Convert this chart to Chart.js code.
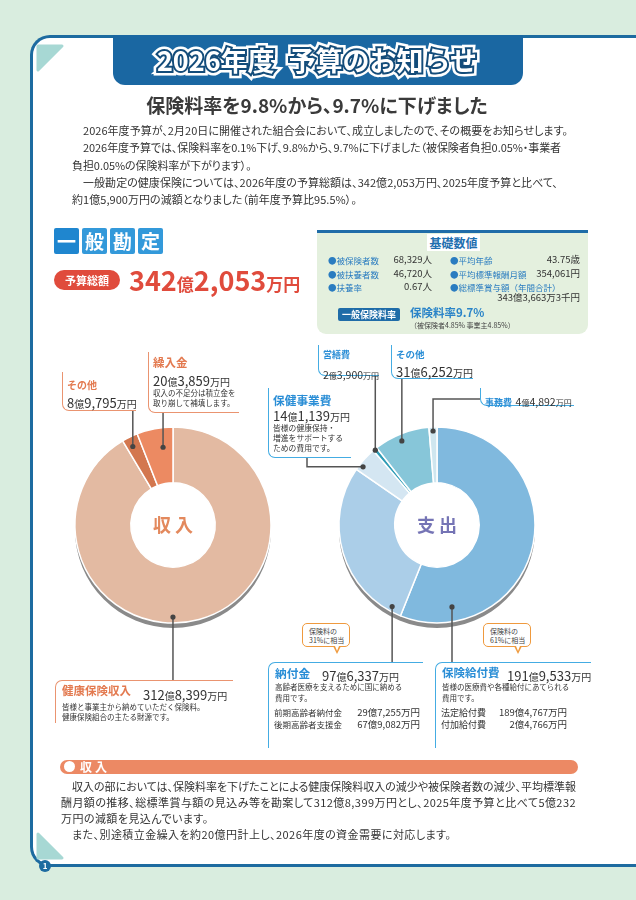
<!DOCTYPE html>
<html lang="ja">
<head>
<meta charset="utf-8">
<script src="https://cdn.jsdelivr.net/npm/chart.js@4.4.1/dist/chart.umd.min.js"></script>
<style>
html, body { margin: 0; padding: 0; }
body { width: 636px; height: 900px; overflow: hidden; background: #d9eddf; position: relative;
  font-family: "Noto Sans CJK JP", "Noto Sans", sans-serif; color: #333; }
.a { position: absolute; white-space: nowrap; line-height: 1; z-index: 3; }
.pp { font-feature-settings: "palt"; }
#card { position: absolute; left: 30px; top: 35px; width: 640px; height: 832px; box-sizing: border-box;
  border: 3px solid #1d6ba0; border-right: none; border-radius: 20px 0 0 20px; background: #fff; z-index: 1; }
canvas { position: absolute; left: 0; top: 0; z-index: 2; }
#tab { position: absolute; left: 113px; top: 35px; width: 410px; height: 50px; background: #1a67a2;
  border-radius: 0 0 12px 12px; z-index: 3; }
.ttl { left: 0; width: 634px; text-align: center; top: 46px; font-size: 27px; font-weight: 700; }
.ttl span { margin-left: 14px; }
.ttl.s1 { -webkit-text-stroke: 9px #fff; color: #fff; }
.ttl.s2 { -webkit-text-stroke: 4px #134c7a; color: #134c7a; }
.ttl.s3 { color: #fff; }
.p { font-size: 11px; color: #333; font-feature-settings: "palt"; }
.tile { position: absolute; top: 228px; width: 25px; height: 26px; background: #3399da; color: #fff; z-index: 3;
  font-size: 19px; font-weight: 700; text-align: center; line-height: 26px; border-radius: 2px; }
.bl { color: #2a7cc0; font-size: 8.5px; }
.bv { font-size: 9.5px; text-align: right; }
.ob { position: absolute; z-index: 3; border-left: 1.5px solid #ea9470; border-bottom: 1.5px solid #ea9470; border-bottom-left-radius: 7px; }
.ot { position: absolute; z-index: 3; border-left: 1.5px solid #ea9470; border-top: 1.5px solid #ea9470; border-top-left-radius: 7px; }
.bb { position: absolute; z-index: 3; border-left: 1.5px solid #44ace3; border-bottom: 1.5px solid #44ace3; border-bottom-left-radius: 7px; }
.bt { position: absolute; z-index: 3; border-left: 1.5px solid #44ace3; border-top: 1.5px solid #44ace3; border-top-left-radius: 7px; }
.oh { color: #e37a50; font-weight: 700; }
.bh { color: #2a8ed6; font-weight: 700; }
.sm { font-size: 7.5px; color: #333; }
.bub { position: absolute; z-index: 3; width: 48px; height: 24px; border: 1.5px solid #ef9a3e; border-radius: 5px; background: #fff;
  font-size: 7px; line-height: 9px; color: #444; padding: 3px 0 0 6px; box-sizing: border-box; }
.bub::after { content: ""; position: absolute; left: 30px; bottom: -8px; width: 0; height: 0;
  border-left: 4px solid transparent; border-right: 4px solid transparent; border-top: 8px solid #ef9a3e; }
.bub::before { content: ""; position: absolute; left: 31.5px; bottom: -5px; width: 0; height: 0; z-index: 1;
  border-left: 2.5px solid transparent; border-right: 2.5px solid transparent; border-top: 5px solid #fff; }
</style>
</head>
<body>
<div id="card"></div>
<svg width="636" height="900" style="position:absolute;left:0;top:0;z-index:1">
  <path d="M38 46 L62 46 L38 70 Z" fill="#a7d8d4" stroke="#a7d8d4" stroke-width="3" stroke-linejoin="round"/>
  <path d="M38 834 L62 858 L38 858 Z" fill="#a7d8d4" stroke="#a7d8d4" stroke-width="3" stroke-linejoin="round"/>
</svg>
<div class="a" style="left:39px;top:860px;width:12px;height:12px;border-radius:6px;background:#1d6ba0;color:#fff;font-size:8px;font-weight:700;text-align:center;line-height:12px">1</div>

<div id="tab"></div>
<div class="a ttl s1">2026年度<span>予算のお知らせ</span></div>
<div class="a ttl s2">2026年度<span>予算のお知らせ</span></div>
<div class="a ttl s3">2026年度<span>予算のお知らせ</span></div>

<div class="a pp" style="left:0;width:634px;text-align:center;top:95px;font-size:19px;font-weight:700;color:#3a3a3a">保険料率を9.8%から、9.7%に下げました</div>

<div class="a p" style="left:83px;top:125px" data-w="485">2026年度予算が、2月20日に開催された組合会において、成立しましたので、その概要をお知らせします。</div>
<div class="a p" style="left:83px;top:142px" data-w="478">2026年度予算では、保険料率を0.1%下げ、9.8%から、9.7%に下げました（被保険者負担0.05%・事業者</div>
<div class="a p" style="left:72px;top:160px">負担0.05%の保険料率が下がります）。</div>
<div class="a p" style="left:83px;top:177px" data-w="475">一般勘定の健康保険については、2026年度の予算総額は、342億2,053万円、2025年度予算と比べて、</div>
<div class="a p" style="left:72px;top:194px">約1億5,900万円の減額となりました（前年度予算比95.5%）。</div>

<div class="tile" style="left:54px;background:#1f86cf">一</div>
<div class="tile" style="left:82px">般</div>
<div class="tile" style="left:110px">勘</div>
<div class="tile" style="left:138px">定</div>

<div class="a" style="left:54px;top:270px;width:66px;height:20px;border-radius:10px;background:#e04b3c;color:#fff;font-size:11px;font-weight:700;text-align:center;line-height:20px">予算総額</div>
<div class="a" id="total" style="left:129px;top:266px;color:#e04b3c;font-weight:700;line-height:28px"></div>

<!-- 基礎数値 -->
<div class="a" style="left:317px;top:230px;width:271px;height:104px;background:#e4f0de;border-top:3px solid #1f6ca8;border-radius:0 0 9px 9px;box-sizing:border-box;z-index:2"></div>
<div class="a" style="left:427px;top:234px;width:53px;height:17px;background:#fff;color:#1f6fb0;font-size:12px;font-weight:700;text-align:center;line-height:17px">基礎数値</div>
<div class="a bl" style="left:328px;top:256px">●被保険者数</div>
<div class="a bv" style="left:372px;width:60px;top:255px">68,329人</div>
<div class="a bl" style="left:328px;top:270px">●被扶養者数</div>
<div class="a bv" style="left:372px;width:60px;top:269px">46,720人</div>
<div class="a bl" style="left:328px;top:283px">●扶養率</div>
<div class="a bv" style="left:372px;width:60px;top:282px">0.67人</div>
<div class="a bl" style="left:450px;top:256px">●平均年齢</div>
<div class="a bv" style="left:520px;width:60px;top:255px">43.75歳</div>
<div class="a bl" style="left:450px;top:270px">●平均標準報酬月額</div>
<div class="a bv" style="left:520px;width:60px;top:269px">354,061円</div>
<div class="a bl" style="left:450px;top:283px">●総標準賞与額（年間合計）</div>
<div class="a bv" style="left:480px;width:100px;top:293px">343億3,663万3千円</div>
<div class="a" style="left:338px;top:308px;width:62px;height:13px;background:#1f6ca8;border-radius:2px;color:#fff;font-size:9px;font-weight:700;text-align:center;line-height:13px">一般保険料率</div>
<div class="a" style="left:410px;top:307px;font-size:11.5px;font-weight:700;color:#2a84c8">保険料率9.7%</div>
<div class="a" style="left:410px;top:322px;font-size:7px;color:#444">（被保険者4.85% 事業主4.85%）</div>

<canvas id="inc" width="636" height="900"></canvas>
<canvas id="exp" width="636" height="900"></canvas>

<!-- 収入 callouts -->
<div class="ob" style="left:62px;top:372px;width:73px;height:38px"></div>
<div class="a oh" style="left:67px;top:380px;font-size:10px">その他</div>
<div class="a amt" style="left:67px;top:393px" data-set="inc" data-i="1" data-b="13" data-s="10"></div>

<div class="ob" style="left:148px;top:352px;width:90px;height:60px"></div>
<div class="a oh" style="left:153px;top:357px;font-size:11.5px">繰入金</div>
<div class="a amt" style="left:153px;top:371px" data-set="inc" data-i="2" data-b="13" data-s="10"></div>
<div class="a sm" style="left:153px;top:389px">収入の不足分は積立金を</div>
<div class="a sm" style="left:153px;top:399px">取り崩して補填します。</div>

<div class="ot" style="left:55px;top:680px;width:177px;height:42px"></div>
<div class="a oh" style="left:62px;top:685px;font-size:11.5px">健康保険収入</div>
<div class="a amt" style="left:143px;top:685px" data-set="inc" data-i="0" data-b="13" data-s="10"></div>
<div class="a sm" style="left:62px;top:703px">皆様と事業主から納めていただく保険料。</div>
<div class="a sm" style="left:62px;top:713px">健康保険組合の主たる財源です。</div>

<!-- 支出 callouts -->
<div class="bb" style="left:318px;top:345px;width:60px;height:30px"></div>
<div class="a bh" style="left:323px;top:350px;font-size:9px">営繕費</div>
<div class="a amt" style="left:323px;top:364px" data-set="exp" data-i="3" data-b="10.5" data-s="8"></div>

<div class="bb" style="left:391px;top:345px;width:81px;height:33px"></div>
<div class="a bh" style="left:396px;top:350px;font-size:9.5px">その他</div>
<div class="a amt" style="left:396px;top:362px" data-set="exp" data-i="4" data-b="13" data-s="10"></div>

<div class="bb" style="left:268px;top:388px;width:82px;height:69px"></div>
<div class="a bh" style="left:273px;top:394px;font-size:11.7px">保健事業費</div>
<div class="a amt" style="left:273px;top:406px" data-set="exp" data-i="2" data-b="13" data-s="10"></div>
<div class="a sm" style="left:273px;top:424px;font-size:7.8px">皆様の健康保持・</div>
<div class="a sm" style="left:273px;top:434px;font-size:7.8px">増進をサポートする</div>
<div class="a sm" style="left:273px;top:444px;font-size:7.8px">ための費用です。</div>

<div class="bb" style="left:480px;top:388px;width:93px;height:17px"></div>
<div class="a" style="left:485px;top:391px"><span class="bh" style="font-size:9px">事務費</span> <span class="amt" data-set="exp" data-i="5" data-b="10.5" data-s="8"></span></div>

<div class="bub" style="left:302px;top:623px">保険料の<br>31%に相当</div>
<div class="bub" style="left:483px;top:623px">保険料の<br>61%に相当</div>

<div class="bt" style="left:268px;top:662px;width:154px;height:85px"></div>
<div class="a bh" style="left:275px;top:667px;font-size:11.7px">納付金</div>
<div class="a amt" style="left:322px;top:666px" data-set="exp" data-i="1" data-b="13" data-s="10"></div>
<div class="a sm" style="left:275px;top:683px">高齢者医療を支えるために国に納める</div>
<div class="a sm" style="left:275px;top:694px">費用です。</div>
<div class="a" style="left:274px;top:708px;font-size:8.5px">前期高齢者納付金</div>
<div class="a sub" style="left:340px;width:80px;text-align:right;top:708px;font-size:9.5px" data-set="levy" data-i="0"></div>
<div class="a" style="left:274px;top:720px;font-size:8.5px">後期高齢者支援金</div>
<div class="a sub" style="left:340px;width:80px;text-align:right;top:720px;font-size:9.5px" data-set="levy" data-i="1"></div>

<div class="bt" style="left:435px;top:662px;width:155px;height:85px"></div>
<div class="a bh" style="left:442px;top:667px;font-size:11.5px">保険給付費</div>
<div class="a amt" style="left:507px;top:666px" data-set="exp" data-i="0" data-b="13" data-s="10"></div>
<div class="a sm" style="left:442px;top:683px">皆様の医療費や各種給付にあてられる</div>
<div class="a sm" style="left:442px;top:694px">費用です。</div>
<div class="a" style="left:441px;top:708px;font-size:9px">法定給付費</div>
<div class="a sub" style="left:486px;width:81px;text-align:right;top:708px;font-size:9.5px" data-set="benefit" data-i="0"></div>
<div class="a" style="left:441px;top:720px;font-size:9px">付加給付費</div>
<div class="a sub" style="left:486px;width:81px;text-align:right;top:720px;font-size:9.5px" data-set="benefit" data-i="1"></div>

<!-- 収入 section -->
<div class="a" style="left:60px;top:760px;width:518px;height:14px;border-radius:7px;background:#ec8964"></div>
<div class="a" style="left:64px;top:761px;width:11px;height:11px;border-radius:6px;background:#fff"></div>
<div class="a" style="left:80px;top:761px;font-size:12px;font-weight:700;color:#fff;letter-spacing:3px;line-height:12px">収入</div>
<div class="a p" style="left:72px;top:781px" data-w="504">収入の部においては、保険料率を下げたことによる健康保険料収入の減少や被保険者数の減少、平均標準報</div>
<div class="a p" style="left:61px;top:797px" data-w="515">酬月額の推移、総標準賞与額の見込み等を勘案して312億8,399万円とし、2025年度予算と比べて5億232</div>
<div class="a p" style="left:61px;top:813px">万円の減額を見込んでいます。</div>
<div class="a p" style="left:72px;top:829px">また、別途積立金繰入を約20億円計上し、2026年度の資金需要に対応します。</div>

<script>
// values in 億円
const incomeLabels = ['健康保険収入', 'その他', '繰入金'];
const incomeValues = [312.8399, 8.9795, 20.3859];
const incomeColors = ['#e3baa2', '#d3774f', '#ec8a62'];

const expenseLabels = ['保険給付費', '納付金', '保健事業費', '営繕費', 'その他', '事務費'];
const expenseValues = [191.9533, 97.6337, 14.1139, 2.39, 31.6252, 4.4892];
const expenseColors = ['#80b9de', '#abcee8', '#d4e6f2', '#2f9cb6', '#87c6d9', '#cfe6ef'];

const levyParts = [29.7255, 67.9082];      // 前期高齢者納付金, 後期高齢者支援金
const benefitParts = [189.4767, 2.4766];   // 法定給付費, 付加給付費

const sets = { inc: incomeValues, exp: expenseValues, levy: levyParts, benefit: benefitParts };

function okuMan(v) {
  const oku = Math.floor(v + 1e-9);
  const man = Math.round((v - oku) * 10000);
  return [String(oku), man.toLocaleString('en-US')];
}

function money(v, b, s) {
  const [o, m] = okuMan(v);
  return `<span style="font-size:${b}px">${o}</span><span style="font-size:${s}px">億</span>` +
    `<span style="font-size:${b}px">${m}</span><span style="font-size:${s}px">万円</span>`;
}

document.querySelectorAll('.amt').forEach(el => {
  const v = sets[el.dataset.set][+el.dataset.i];
  el.innerHTML = money(v, el.dataset.b, el.dataset.s);
});
document.querySelectorAll('.sub').forEach(el => {
  const [o, m] = okuMan(sets[el.dataset.set][+el.dataset.i]);
  el.textContent = o + '億' + m + '万円';
});
const total = incomeValues.reduce((s, v) => s + v, 0);
document.getElementById('total').innerHTML = money(total, 27, 17);

// stretch full-width text lines to the measured width
let lastLs = 0;
document.querySelectorAll('.p').forEach(el => {
  if (el.dataset.w) {
    const w = el.getBoundingClientRect().width;
    lastLs = (parseFloat(el.dataset.w) - w) / el.textContent.length;
  }
  el.style.letterSpacing = lastLs + 'px';
});

// leader lines, shadow and center label
function donutDeco(spec) {
  return {
    id: 'deco',
    beforeDatasetsDraw(chart) {
      const a = chart.getDatasetMeta(0).data[0];
      const ctx = chart.ctx;
      ctx.save();
      ctx.beginPath();
      ctx.arc(a.x, a.y + 5, a.outerRadius, 0, Math.PI * 2);
      ctx.arc(a.x, a.y + 5, a.outerRadius * 0.7, 0, Math.PI * 2, true);
      ctx.fillStyle = '#8a8a8a';
      ctx.fill();
      ctx.restore();
    },
    afterDatasetsDraw(chart) {
      const meta = chart.getDatasetMeta(0);
      const ctx = chart.ctx;
      const c = meta.data[0];
      ctx.save();
      ctx.font = 'bold 18px "Noto Sans CJK JP"';
      ctx.fillStyle = spec.color;
      ctx.textAlign = 'center';
      ctx.textBaseline = 'middle';
      ctx.fillText(spec.text[0], c.x - 11, c.y);
      ctx.fillText(spec.text[1], c.x + 11, c.y);

      ctx.strokeStyle = '#555';
      ctx.fillStyle = '#444';
      ctx.lineWidth = 1.5;
      spec.lines.forEach(l => {
        const arc = meta.data[l.i];
        const ang = arc.startAngle + (arc.endAngle - arc.startAngle) * l.at;
        const r = arc.outerRadius * l.r;
        let x = arc.x + Math.cos(ang) * r;
        let y = arc.y + Math.sin(ang) * r;
        const x0 = x, y0 = y;
        ctx.beginPath();
        ctx.moveTo(x, y);
        l.path.forEach(([d, v]) => {
          if (d === 'v') y = v; else x = v;
          ctx.lineTo(x, y);
        });
        ctx.stroke();
        ctx.beginPath();
        ctx.arc(x0, y0, 2.6, 0, Math.PI * 2);
        ctx.fill();
      });
      ctx.restore();
    }
  };
}

function donut(id, labels, values, colors, pad, spec) {
  return new Chart(document.getElementById(id), {
    type: 'doughnut',
    data: {
      labels: labels,
      datasets: [{ data: values, backgroundColor: colors, borderColor: '#ffffff', borderWidth: 1.5 }]
    },
    options: {
      responsive: false,
      animation: false,
      radius: 98,
      cutout: '43%',
      layout: { padding: pad },
      plugins: { legend: { display: false }, tooltip: { enabled: false } },
      events: []
    },
    plugins: [donutDeco(spec)]
  });
}

donut('inc', incomeLabels, incomeValues, incomeColors,
  { left: 73, right: 363, top: 425, bottom: 275 },
  {
    text: ['収', '入'], color: '#e3895d',
    lines: [
      { i: 0, at: 0.547, r: 0.94, path: [['v', 680]] },
      { i: 1, at: 0.4, r: 0.9, path: [['v', 410]] },
      { i: 2, at: 0.66, r: 0.8, path: [['v', 412]] }
    ]
  });

donut('exp', expenseLabels, expenseValues, expenseColors,
  { left: 337, right: 99, top: 425, bottom: 275 },
  {
    text: ['支', '出'], color: '#7574b5',
    lines: [
      { i: 0, at: 0.84, r: 0.85, path: [['v', 662]] },
      { i: 1, at: 0.067, r: 0.95, path: [['v', 662]] },
      { i: 2, at: 0.24, r: 0.96, path: [['h', 307], ['v', 457]] },
      { i: 3, at: 0.4, r: 0.99, path: [['v', 375]] },
      { i: 4, at: 0.46, r: 0.93, path: [['v', 378]] },
      { i: 5, at: 0.49, r: 0.96, path: [['v', 399], ['h', 480]] }
    ]
  });
</script>
</body>
</html>
